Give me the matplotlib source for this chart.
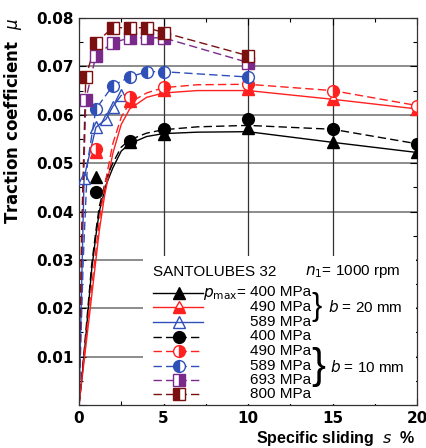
import matplotlib
matplotlib.use("Agg")
import matplotlib.pyplot as plt
from matplotlib.lines import Line2D
from matplotlib.patches import Rectangle
import numpy as np

plt.rcParams["font.family"] = ["Liberation Sans", "DejaVu Sans"]

# ---- measured points (specific sliding s in %, traction coefficient mu)
# b = 20 mm
s_b20_400 = [1, 3, 5, 10, 15, 20]
mu_b20_400 = [0.0471, 0.0543, 0.0561, 0.0572, 0.0543, 0.0522]
s_b20_490 = [1, 3, 5, 10, 15, 20]
mu_b20_490 = [0.0522, 0.0629, 0.0651, 0.0654, 0.0632, 0.0612]
s_b20_589 = [0.3, 1, 1.6, 2, 2.5]
mu_b20_589 = [0.047, 0.0574, 0.0591, 0.0617, 0.064]

# b = 10 mm
s_b10_400 = [1, 3, 5, 10, 15, 20]
mu_b10_400 = [0.044, 0.0545, 0.0571, 0.0591, 0.0570, 0.0540]
s_b10_490 = [1, 3, 5, 10, 15, 20]
mu_b10_490 = [0.0529, 0.0636, 0.0658, 0.0663, 0.0650, 0.0619]
s_b10_589 = [1, 2, 3, 4, 5, 10]
mu_b10_589 = [0.0612, 0.0660, 0.0678, 0.0689, 0.0689, 0.0678]
s_b10_693 = [0.4, 1, 2, 3, 4, 5, 10]
mu_b10_693 = [0.0631, 0.0722, 0.0749, 0.0759, 0.0759, 0.0759, 0.0708]
s_b10_800 = [0.4, 1, 2, 3, 4, 5, 10]
mu_b10_800 = [0.0678, 0.0749, 0.0780, 0.0780, 0.0780, 0.0770, 0.0722]

# ---- fitted curves traced through the data
s_fit_400 = [0, 0.3, 0.55, 0.75, 1.0, 1.2, 1.6, 2.0, 2.5, 3, 4, 5, 7, 10, 15, 20]
mu_fit_b20_400 = [0, 0.010, 0.020, 0.028, 0.035, 0.040, 0.0455, 0.049, 0.0525,
                  0.0540, 0.0555, 0.0561, 0.0564, 0.0565, 0.0543, 0.0522]
mu_fit_b10_400 = [0, 0.011, 0.021, 0.029, 0.036, 0.041, 0.0467, 0.050, 0.0533,
                  0.0548, 0.0562, 0.0569, 0.0575, 0.0578, 0.0570, 0.0540]
s_fit_490 = [0, 0.3, 0.6, 0.9, 1.2, 1.5, 2.0, 2.5, 3, 4, 5, 7, 10, 15, 20]
mu_fit_b20_490 = [0, 0.009, 0.018, 0.027, 0.036, 0.043, 0.052, 0.058, 0.0612,
                  0.0636, 0.0645, 0.0650, 0.0650, 0.0632, 0.0612]
mu_fit_b10_490 = [0, 0.010, 0.020, 0.029, 0.038, 0.045, 0.054, 0.0595, 0.0625,
                  0.0645, 0.0656, 0.0662, 0.0663, 0.0650, 0.0619]
s_fit_589_b20 = [0, 0.3, 1, 1.6, 2, 2.5]
mu_fit_589_b20 = [0, 0.047, 0.0574, 0.0591, 0.0617, 0.064]
s_fit_589_b10 = [0, 0.25, 0.5, 1, 2, 3, 4, 5, 10]
mu_fit_589_b10 = [0, 0.030, 0.050, 0.0612, 0.0660, 0.0678, 0.0689, 0.0689, 0.0678]
s_fit_693 = [0, 0.15, 0.4, 1, 2, 3, 4, 5, 10]
mu_fit_693 = [0, 0.030, 0.0631, 0.0722, 0.0749, 0.0759, 0.0759, 0.0759, 0.0708]
s_fit_800 = [0, 0.15, 0.4, 1, 2, 3, 4, 5, 10]
mu_fit_800 = [0, 0.035, 0.0678, 0.0749, 0.0780, 0.0780, 0.0780, 0.0770, 0.0722]

pressures = ["400", "490", "589", "400", "490", "589", "693", "800"]

black = "black"
red = "#ff2020"
blue = "#3050b8"
purple = "#7a2a8a"
darkred = "#7a1010"
dash = (0, (6, 3))

series = [
    # (s, mu, s_fit, mu_fit, colour, linestyle, marker, fillstyle, ms)
    (s_b20_400, mu_b20_400, s_fit_400, mu_fit_b20_400, black, "-", "^", "full", 8.5),
    (s_b20_490, mu_b20_490, s_fit_490, mu_fit_b20_490, red, "-", "^", "bottom", 8.5),
    (s_b20_589, mu_b20_589, s_fit_589_b20, mu_fit_589_b20, blue, "-", "^", "none", 8.5),
    (s_b10_400, mu_b10_400, s_fit_400, mu_fit_b10_400, black, dash, "o", "full", 8.5),
    (s_b10_490, mu_b10_490, s_fit_490, mu_fit_b10_490, red, dash, "o", "right", 8.5),
    (s_b10_589, mu_b10_589, s_fit_589_b10, mu_fit_589_b10, blue, dash, "o", "left", 8.5),
    (s_b10_693, mu_b10_693, s_fit_693, mu_fit_693, purple, dash, "s", "right", 9),
    (s_b10_800, mu_b10_800, s_fit_800, mu_fit_800, darkred, dash, "s", "left", 9),
]

fig = plt.figure(figsize=(4.27, 4.48), dpi=100)
ax = fig.add_axes([79 / 427, 1 - 405 / 448, 338 / 427, 387 / 448])

ax.set_xlim(0, 20)
ax.set_ylim(0, 0.08)
ax.set_xticks(np.arange(0, 21, 5))
ax.set_xticks(np.arange(0, 21, 2.5), minor=True)
ax.set_yticks(np.arange(0, 0.081, 0.01))
ax.set_yticks(np.arange(0, 0.081, 0.005), minor=True)
ax.set_xticklabels(["0", "5", "10", "15", "20"])
ax.set_yticklabels(["", "0.01", "0.02", "0.03", "0.04", "0.05", "0.06", "0.07", "0.08"])
ax.tick_params(which="both", direction="in", top=True, right=True, width=0.8)
ax.tick_params(which="major", length=5, labelsize=11, pad=4)
ax.tick_params(which="minor", length=3)
for lab in ax.get_xticklabels() + ax.get_yticklabels():
    lab.set_fontweight("bold")
    lab.set_fontfamily("DejaVu Sans")
for sp in ax.spines.values():
    sp.set_linewidth(0.9)
    sp.set_color("#333333")

# grid: grey horizontals, dark verticals
for y in np.arange(0.01, 0.08, 0.01):
    ax.axhline(y, color="#8c8c8c", lw=1.4, zorder=0)
for x in [5, 10, 15]:
    ax.axvline(x, color="#333333", lw=0.9, zorder=0)

for s, mu, sf, mf, c, ls, mk, fs, ms in series:
    ax.plot(sf, mf, color=c, ls=ls, lw=1.0, zorder=2)
    ax.plot(s, mu, ls="none", marker=mk, ms=ms, color=c, markeredgecolor=c,
            markerfacecoloralt="white", fillstyle=fs, markeredgewidth=1.0, zorder=3)

ax.set_ylabel(r"Traction coefficient  $\mu$", fontsize=12, fontweight="bold",
              family="DejaVu Sans", loc="top")
ax.yaxis.set_label_coords(-0.163, 1.0)
ax.set_xlabel(r"Specific sliding  $s$  %", fontsize=11.5, fontweight="bold",
              loc="right")
ax.xaxis.set_label_coords(0.994, -0.063)

# ---- legend block drawn in axes fraction
tr = ax.transAxes
def ax_x(px):
    return (px - 79) / 338
def ax_y(py):
    return (405 - py) / 387

fs_leg = 11
ax.add_patch(Rectangle((ax_x(143), ax_y(404)), ax_x(416) - ax_x(143), ax_y(256) - ax_y(404),
                       transform=tr, facecolor="white", edgecolor="none", zorder=4))
ax.text(ax_x(153), ax_y(272), "SANTOLUBES 32", transform=tr, fontsize=fs_leg,
        va="center", ha="left", zorder=5)
ax.text(ax_x(305), ax_y(272), r"$n_1$= 1000 rpm", transform=tr, fontsize=fs_leg,
        va="center", ha="left", zorder=5)

row_y = [292.5, 307.3, 321.5, 336.5, 350.7, 365.5, 380, 394]
for i, (s, mu, sf, mf, c, ls, mk, fs, ms) in enumerate(series):
    yy = ax_y(row_y[i])
    ax.add_line(Line2D([ax_x(153), ax_x(203)], [yy, yy], transform=tr, color=c, ls=ls,
                       lw=1.0, zorder=5))
    ax.add_line(Line2D([ax_x(179)], [yy], transform=tr, ls="none", marker=mk, ms=ms,
                       color=c, markeredgecolor=c, markerfacecoloralt="white",
                       fillstyle=fs, markeredgewidth=1.0, zorder=6))
    ax.text(ax_x(311), yy, f"{pressures[i]} MPa", transform=tr, fontsize=fs_leg,
            va="center", ha="right", zorder=5)
ax.text(ax_x(247), ax_y(row_y[0]) - 0.004, r"$p_{\mathrm{max}}$=", transform=tr,
        fontsize=fs_leg, va="center", ha="right", zorder=5)

# braces for the two disc widths
ax.text(ax_x(311), ax_y(307), "}", transform=tr, fontsize=22, va="center", ha="left",
        zorder=5)
ax.text(ax_x(328), ax_y(307), r"$b$ = 20 mm", transform=tr, fontsize=fs_leg,
        va="center", ha="left", zorder=5)
ax.text(ax_x(311), ax_y(367), "}", transform=tr, fontsize=30, va="center", ha="left",
        zorder=5)
ax.text(ax_x(330), ax_y(367), r"$b$ = 10 mm", transform=tr, fontsize=fs_leg,
        va="center", ha="left", zorder=5)

fig.savefig("out.png", dpi=100)
